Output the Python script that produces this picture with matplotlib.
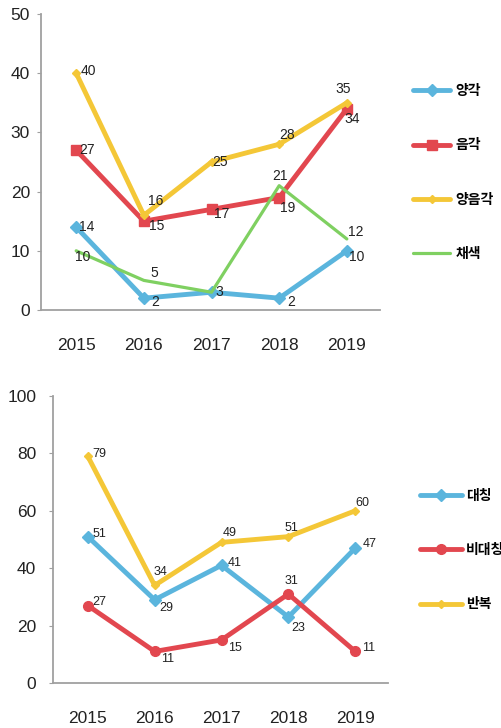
import matplotlib
matplotlib.use("Agg")
import matplotlib.pyplot as plt
import numpy as np

plt.rcParams['font.family'] = ['Liberation Sans', 'Noto Sans CJK KR', 'DejaVu Sans']

years = ['2015', '2016', '2017', '2018', '2019']

# top chart
top_names = ['양각', '음각', '양음각', '채색']
relief = [14, 2, 3, 2, 10]
intaglio = [27, 15, 17, 19, 34]
both = [40, 16, 25, 28, 35]
colored = [10, 5, 3, 21, 12]
top_yticks = [0, 10, 20, 30, 40, 50]

# bottom chart
bot_names = ['대칭', '비대칭', '반복']
symmetric = [51, 29, 41, 23, 47]
asymmetric = [27, 11, 15, 31, 11]
repeat = [79, 34, 49, 51, 60]
bot_yticks = [0, 20, 40, 60, 80, 100]

BLUE = '#5bb5dd'
RED = '#e2474f'
YELLOW = '#f4c737'
GREEN = '#7fd061'

# label offsets in pixels (dx, dy); None = no label
top_offsets = [
    [(3, 0), (7, -4), (4, 0), (8, -4), (2, -6)],
    [(3, 0), (5, -5), (2, -5), (1, -10), (-2, -10)],
    [(4, 2), (4, 14), (1, 0), (0, 9), (-11, 14)],
    [(-1, -6), (7, 7), None, (-7, 10), (1, 7)],
]
bot_offsets = [
    [(5, 3), (5, -8), (6, 2), (3, -11), (7, 4)],
    [(5, 4), (6, -8), (7, -8), (-4, 13), (7, 3)],
    [(5, 2), (-1, 13), (1, 9), (-4, 9), (0, 8)],
]

fig = plt.figure(figsize=(5.02, 7.28), dpi=100)
ax1 = fig.add_axes([41/502, 1-310/728, 339/502, 296/728])
ax2 = fig.add_axes([53/502, 1-683/728, 335/502, 287/728])

x = np.arange(len(years))


def style(ax, yticks, ypad):
    ax.set_xlim(-0.52, 4.49)
    ax.set_ylim(0, yticks[-1])
    ax.set_yticks(yticks)
    ax.set_xticks(x)
    ax.set_xticklabels(years)
    for s in ['top', 'right']:
        ax.spines[s].set_visible(False)
    for s in ['left', 'bottom']:
        ax.spines[s].set_color('#a0a0a0')
        ax.spines[s].set_linewidth(1.3)
    ax.tick_params(axis='x', length=0, pad=20, labelsize=12.5, labelcolor='#222222')
    ax.tick_params(axis='y', length=3, color='#a0a0a0', pad=ypad, labelsize=12.5, labelcolor='#222222')
    ax.set_facecolor('none')


def draw(ax, series, names, colors, markers, sizes, lws, offsets, fs):
    for vals, name, c, m, ms, lw, offs in zip(series, names, colors, markers, sizes, lws, offsets):
        ax.plot(x, vals, color=c, marker=m, markersize=ms, linewidth=lw, label=name,
                solid_capstyle='round', solid_joinstyle='round')
        for xi, v, o in zip(x, vals, offs):
            if o is None:
                continue
            ax.annotate(str(v), (xi, v), xytext=o, textcoords='offset pixels',
                        ha='left', va='center', fontsize=fs, color='#222222')


draw(ax1, [relief, intaglio, both, colored], top_names,
     [BLUE, RED, YELLOW, GREEN], ['D', 's', 'D', None], [6, 7, 4, 0],
     [3.5, 3.5, 3.5, 2.3], top_offsets, 10)
style(ax1, top_yticks, 5)
ax1.legend(loc='center left', bbox_to_anchor=(1.097, 0.4645), frameon=False,
           borderpad=0, borderaxespad=0, labelspacing=2.9, handlelength=2.7,
           handletextpad=0.35, prop={'family': 'Noto Sans CJK KR', 'size': 10, 'weight': 'bold'})

draw(ax2, [symmetric, asymmetric, repeat], bot_names,
     [BLUE, RED, YELLOW], ['D', 'o', 'D'], [6, 7, 4],
     [3.5, 3.5, 3.5], bot_offsets, 9)
style(ax2, bot_yticks, 9)
ax2.legend(loc='center left', bbox_to_anchor=(1.096, 0.463), frameon=False,
           borderpad=0, borderaxespad=0, labelspacing=2.9, handlelength=3.0,
           handletextpad=0.3, prop={'family': 'Noto Sans CJK KR', 'size': 10, 'weight': 'bold'})

fig.savefig('out.png', dpi=100)
